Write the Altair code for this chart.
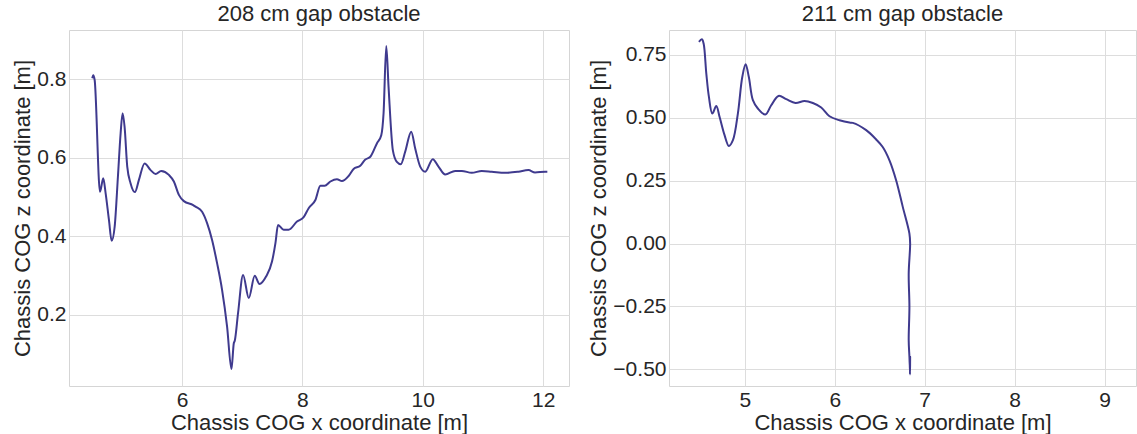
import altair as alt
import pandas as pd

# ---- left panel: 208 cm gap obstacle ----
x208 = [4.507, 4.523, 4.547, 4.635, 4.689, 4.729, 4.784, 4.829, 4.879, 4.933,
        4.978, 5.011, 5.044, 5.088, 5.144, 5.215, 5.282, 5.376, 5.476, 5.559,
        5.652, 5.780, 5.863, 5.946, 6.029, 6.183, 6.223, 6.332, 6.415, 6.498,
        6.581, 6.664, 6.747, 6.820, 6.859, 6.875, 6.930, 7.013, 7.108, 7.207,
        7.285, 7.395, 7.494, 7.551, 7.594, 7.688, 7.771, 7.909, 8.020, 8.103,
        8.215, 8.298, 8.369, 8.464, 8.573, 8.656, 8.767, 8.850, 8.961, 9.045,
        9.128, 9.237, 9.310, 9.348, 9.393, 9.431, 9.502, 9.569, 9.635, 9.708,
        9.808, 9.874, 9.957, 10.040, 10.166, 10.261, 10.372, 10.538, 10.648, 10.814,
        10.980, 11.146, 11.368, 11.589, 11.755, 11.866, 12.032, 12.070]
z208 = [0.803, 0.811, 0.798, 0.514, 0.548, 0.510, 0.442, 0.389, 0.425, 0.552,
        0.663, 0.714, 0.679, 0.578, 0.535, 0.513, 0.544, 0.586, 0.569, 0.559,
        0.567, 0.557, 0.540, 0.506, 0.490, 0.480, 0.476, 0.463, 0.434, 0.391,
        0.332, 0.264, 0.171, 0.062, 0.128, 0.134, 0.205, 0.302, 0.243, 0.300,
        0.279, 0.298, 0.336, 0.383, 0.429, 0.417, 0.417, 0.438, 0.449, 0.472,
        0.493, 0.529, 0.529, 0.540, 0.546, 0.541, 0.554, 0.572, 0.580, 0.596,
        0.603, 0.637, 0.658, 0.714, 0.885, 0.781, 0.620, 0.590, 0.584, 0.616,
        0.667, 0.624, 0.578, 0.565, 0.597, 0.578, 0.558, 0.567, 0.567, 0.562,
        0.567, 0.565, 0.562, 0.565, 0.569, 0.563, 0.565, 0.565]

# ---- right panel: 211 cm gap obstacle ----
x211 = [4.489, 4.522, 4.541, 4.571, 4.600, 4.638, 4.682, 4.719, 4.774, 4.822,
        4.867, 4.922, 4.971, 5.008, 5.044, 5.089, 5.144, 5.227, 5.293, 5.374,
        5.460, 5.563, 5.663, 5.756, 5.849, 5.941, 6.052, 6.163, 6.200, 6.349,
        6.460, 6.533, 6.608, 6.682, 6.756, 6.830, 6.838, 6.822, 6.830, 6.822,
        6.830, 6.836, 6.838, 6.836, 6.833]
z211 = [0.802, 0.812, 0.795, 0.676, 0.583, 0.517, 0.547, 0.503, 0.431, 0.388,
        0.411, 0.517, 0.662, 0.713, 0.662, 0.570, 0.537, 0.513, 0.550, 0.587,
        0.574, 0.559, 0.567, 0.559, 0.541, 0.506, 0.490, 0.481, 0.480, 0.451,
        0.414, 0.384, 0.331, 0.252, 0.146, 0.040, 0.000, -0.119, -0.252, -0.384,
        -0.450, -0.500, -0.450, -0.520, -0.470]

left_ticks_x = [6, 8, 10, 12]
left_ticks_y = [0.2, 0.4, 0.6, 0.8]
right_ticks_x = [5, 6, 7, 8, 9]
right_ticks_y = [-0.5, -0.25, 0.0, 0.25, 0.5, 0.75]

LINE = "#3F3A8E"
XT = "Chassis COG x coordinate  [m]"
YT = "Chassis COG z coordinate  [m]"

df_l = pd.DataFrame({"x": x208, "z": z208, "i": range(len(x208))})
df_r = pd.DataFrame({"x": x211, "z": z211, "i": range(len(x211))})

left = alt.Chart(df_l).mark_line(color=LINE, strokeWidth=2, interpolate="monotone", clip=True).encode(
    x=alt.X("x:Q", title=XT, scale=alt.Scale(domain=[4.12, 12.43], nice=False, zero=False),
            axis=alt.Axis(values=left_ticks_x, format="d")),
    y=alt.Y("z:Q", title=YT, scale=alt.Scale(domain=[0.019, 0.926], nice=False, zero=False),
            axis=alt.Axis(values=left_ticks_y, format=".1f")),
    order="i:Q",
).properties(width=500, height=356, title="208 cm gap obstacle")

right = alt.Chart(df_r).mark_line(color=LINE, strokeWidth=2, interpolate="catmull-rom", clip=True).encode(
    x=alt.X("x:Q", title=XT, scale=alt.Scale(domain=[4.156, 9.35], nice=False, zero=False),
            axis=alt.Axis(values=right_ticks_x, format="d")),
    y=alt.Y("z:Q", title=YT, scale=alt.Scale(domain=[-0.566, 0.849], nice=False, zero=False),
            axis=alt.Axis(values=right_ticks_y, format=".2f")),
    order="i:Q",
).properties(width=467, height=356, title="211 cm gap obstacle")

chart = alt.hconcat(left, right, spacing=17).properties(
    padding={"left": 11, "top": 2, "right": 0, "bottom": 0}
).configure(font="Liberation Sans").configure_view(
    stroke="#D5D5D5", strokeWidth=1
).configure_axis(
    grid=True, gridColor="#DDDDDD", gridWidth=1, domain=False, ticks=False,
    labelFont="Liberation Sans", labelFontSize=21, labelColor="#262626", labelPadding=3,
    titleFont="Liberation Sans", titleFontSize=22, titleColor="#262626", titleFontWeight="normal",
    titlePadding=2,
).configure_title(
    font="Liberation Sans", fontSize=22, fontWeight="normal", color="#262626", offset=4, anchor="middle"
)

chart.save("out.html", embed_options={"renderer": "svg", "actions": False})
